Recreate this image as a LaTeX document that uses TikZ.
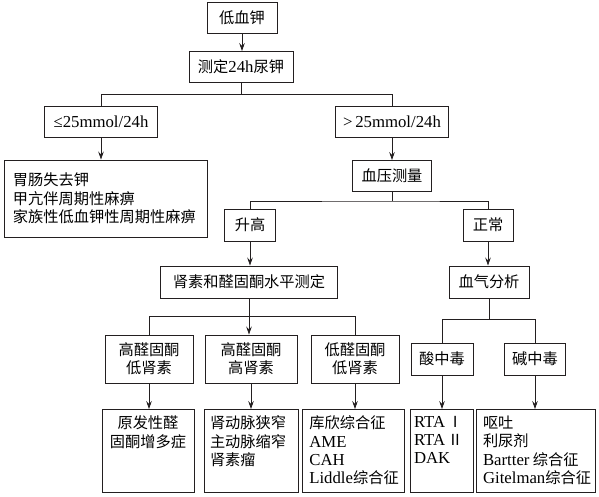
\documentclass[tikz,border=0pt]{standalone}
\usepackage{fontspec}
\setmainfont{Noto Sans CJK SC}
\newfontfamily\latfont[Scale=1.1]{Liberation Serif}
\newcommand{\ltn}[1]{{\latfont #1}}
\usetikzlibrary{arrows.meta,positioning,calc}
\definecolor{ctinta}{HTML}{231F20}
\tikzset{
  caja/.style={draw=ctinta,line width=0.85pt,align=center,inner sep=0pt,
               font=\fontsize{13}{15.6}\selectfont,minimum height=0.93cm},
  cajad/.style={caja,minimum height=1.44cm},
  hoja/.style={caja,minimum height=2.49cm,anchor=north},
  flecha/.style={-{Stealth[length=2.4mm,width=1.7mm,inset=0.9mm]},draw=ctinta,line width=0.7pt},
  rama/.style={draw=ctinta,line width=0.7pt},
}
\newcommand{\hojatxt}[2]{\parbox[c][2.1cm][t]{#1}{#2}}

\begin{document}
\begin{tikzpicture}[x=1cm,y=1cm]
\useasboundingbox (0,0) rectangle (17.97,-14.88);

% ---------------- arriba ----------------
\node[caja,minimum width=2.1cm]  (dxj) at (7.26,-0.54) {低血钾};
\node[caja,minimum width=3.12cm] (cd)  at (7.23,-2.01) {测定\ltn{24h}尿钾};
\node[caja,minimum width=3.39cm] (le)  at (3.03,-3.66) {\ltn{≤25mmol/24h}};
\node[caja,minimum width=3.39cm] (gt)  at (11.76,-3.66) {\ltn{>\,25mmol/24h}};
\node[caja,minimum width=6.09cm,minimum height=2.31cm,text width=5.55cm,align=left] (wc) at (3.165,-5.955)
  {胃肠失去钾\\甲亢伴周期性麻痹\\家族性低血钾性周期性麻痹};
\node[caja,minimum width=2.37cm] (xy) at (11.76,-5.28) {血压测量};

\draw[flecha] (dxj.south) -- (dxj.south |- cd.north);
\draw[rama] (cd.south) -- ++(0,-0.345) coordinate (r1);
\draw[rama] (le.north) |- (r1) -| (gt.north);
\draw[flecha] (le.south) -- (le.south |- wc.north);
\draw[flecha] (gt) -- (xy);

% ----------------血压 ----------------
\node[caja,minimum width=1.53cm,minimum height=0.96cm] (sg) at (7.5,-6.75)   {升高};
\node[caja,minimum width=1.5cm,minimum height=0.96cm]  (zc) at (14.64,-6.75) {正常};
\node[caja,minimum width=5.31cm,minimum height=0.96cm] (sq) at (7.47,-8.46)  {肾素和醛固酮水平测定};
\node[caja,minimum width=2.4cm,minimum height=0.96cm]  (xq) at (14.67,-8.46) {血气分析};

\draw[rama] (xy.south) -- ++(0,-0.27) coordinate (r2);
\draw[rama] (sg.north) |- (r2) -| (zc.north);
\draw[flecha] (sg.south) -- (sg.south |- sq.north);
\draw[flecha] (zc.south) -- (zc.south |- xq.north);

% ---------------- tercer nivel ----------------
\node[cajad,minimum width=2.64cm] (a1) at (4.47,-10.77)  {高醛固酮\\低肾素};
\node[cajad,minimum width=2.76cm] (a2) at (7.53,-10.77)  {高醛固酮\\高肾素};
\node[cajad,minimum width=2.64cm] (a3) at (10.65,-10.77) {低醛固酮\\低肾素};
\node[caja,minimum width=1.86cm,minimum height=0.96cm] (b1) at (13.26,-10.77) {酸中毒};
\node[caja,minimum width=1.83cm,minimum height=0.96cm] (b2) at (16.05,-10.77) {碱中毒};

\coordinate (r3) at ($(sq.south)+(0,-0.54)$);
\draw[rama] (a1.north) |- (r3) -| (a3.north);
\draw[flecha] (sq.south) -- (sq.south |- a2.north);
\draw[rama] (xq.south) -- ++(0,-0.63) coordinate (r4);
\draw[rama] (b1.north) |- (r4) -| (b2.north);

% ---------------- hojas ----------------
\node[hoja,minimum width=2.76cm] (c1) at (4.44,-12.27)
  {\hojatxt{2.5cm}{\centering 原发性醛\\固酮增多症}};
\node[hoja,minimum width=2.82cm] (c2) at (7.53,-12.27)
  {\hojatxt{2.46cm}{肾动脉狭窄\\主动脉缩窄\\肾素瘤}};
\node[hoja,minimum width=3.06cm] (c3) at (10.59,-12.27)
  {\hojatxt{2.62cm}{库欣综合征\\\ltn{AME}\\\ltn{CAH}\\\ltn{Liddle}综合征}};
\node[hoja,minimum width=1.89cm] (c4) at (13.245,-12.27)
  {\hojatxt{1.65cm}{\mbox{\ltn{RTA}\,Ⅰ}\\\mbox{\ltn{RTA}\,Ⅱ}\\\ltn{DAK}}};
\node[hoja,minimum width=3.57cm] (c5) at (16.065,-12.27)
  {\hojatxt{3.15cm}{呕吐\\利尿剂\\\ltn{Bartter} 综合征\\\ltn{Gitelman}综合征}};

\draw[flecha] (a1.south) -- (a1.south |- c1.north);
\draw[flecha] (a2.south) -- (a2.south |- c2.north);
\draw[flecha] (a3.south) -- (a3.south |- c3.north);
\draw[flecha] (b1.south) -- (b1.south |- c4.north);
\draw[flecha] (b2.south) -- (b2.south |- c5.north);

\end{tikzpicture}
\end{document}
